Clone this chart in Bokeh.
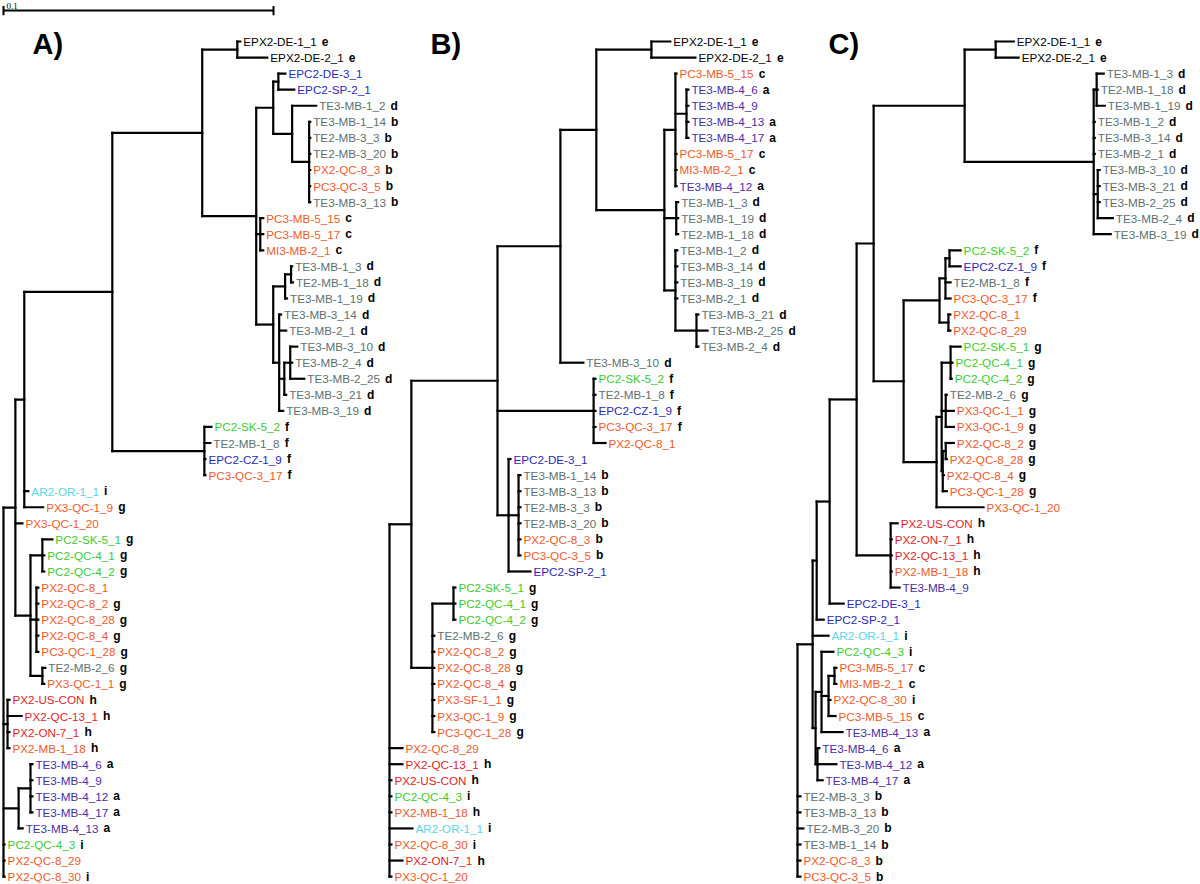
from bokeh.plotting import figure
from bokeh.models import Range1d, ColumnDataSource
from bokeh.embed import file_html
from bokeh.resources import INLINE
from bokeh.core.properties import value

# ---------------- data: three phylogenies (Newick, substitutions/site) ----------------
TREE_A = (
    "((((((EPX2-DE-1_1:0.0011,EPX2-DE-2_1:0.0111):0.0130,"
    "(((EPC2-DE-3_1:0.0026,EPC2-SP-2_1:0.0059):0.0019,"
    "(TE3-MB-1_2:0.0089,(TE3-MB-1_14:0.0004,TE2-MB-3_3:0.0004,TE2-MB-3_20:0.0004,"
    "PX2-QC-8_3:0.0004,PC3-QC-3_5:0.0004,TE3-MB-3_13:0.0004):0.0063):0.0070):0.0063,"
    "(PC3-MB-5_15:0.0011,PC3-MB-5_17:0.0011,MI3-MB-2_1:0.0011):0.0015,"
    "(((TE3-MB-1_3:0.0004,TE2-MB-1_18:0.0007):0.0022,TE3-MB-1_19:0.0007):0.0044,"
    "(TE3-MB-3_14:0.0007,TE3-MB-2_1:0.0026,((TE3-MB-3_10:0.0026,TE3-MB-2_4:0.0007,"
    "TE3-MB-2_25:0.0052):0.0022,TE3-MB-3_21:0.0007):0.0019,TE3-MB-3_19:0.0015):0.0022):0.0063"
    "):0.0200):0.0333,"
    "(PC2-SK-5_2:0.0026,TE2-MB-1_8:0.0022,EPC2-CZ-1_9:0.0004,PC3-QC-3_17:0.0004):0.0341"
    "):0.0326,AR2-OR-1_1:0.0015,PX3-QC-1_9:0.0070):0.0033,"
    "PX3-QC-1_20:0.0026,"
    "((PC2-SK-5_1:0.0037,PC2-QC-4_1:0.0007,PC2-QC-4_2:0.0007):0.0044,"
    "(PX2-QC-8_1:0.0007,PX2-QC-8_2:0.0007,PX2-QC-8_28:0.0007,PX2-QC-8_4:0.0007,PC3-QC-1_28:0.0007):0.0022,"
    "(TE2-MB-2_6:0.0011,PX3-QC-1_1:0.0007):0.0044):0.0056"
    "):0.0044,"
    "(PX2-US-CON:0.0007,PX2-QC-13_1:0.0052,PX2-ON-7_1:0.0007,PX2-MB-1_18:0.0007):0.0015,"
    "((TE3-MB-4_6:0.0007,TE3-MB-4_9:0.0007,TE3-MB-4_12:0.0007,TE3-MB-4_17:0.0007):0.0044,"
    "TE3-MB-4_13:0.0015):0.0056,"
    "PC2-QC-4_3:0.0004,PX2-QC-8_29:0.0004,PX2-QC-8_30:0.0004);"
)

TREE_B = (
    "((((((EPX2-DE-1_1:0.0070,EPX2-DE-2_1:0.0163):0.0204,"
    "((PC3-MB-5_15:0.0004,(TE3-MB-4_6:0.0007,TE3-MB-4_9:0.0007,TE3-MB-4_13:0.0007,"
    "TE3-MB-4_17:0.0007):0.0041,PC3-MB-5_17:0.0004,MI3-MB-2_1:0.0004,TE3-MB-4_12:0.0004):0.0041,"
    "(TE3-MB-1_3:0.0007,TE3-MB-1_19:0.0007,TE2-MB-1_18:0.0007):0.0044,"
    "(TE3-MB-1_2:0.0007,TE3-MB-3_14:0.0007,TE3-MB-3_19:0.0007,TE3-MB-2_1:0.0007,"
    "(TE3-MB-3_21:0.0007,TE3-MB-2_25:0.0041,TE3-MB-2_4:0.0007):0.0078):0.0041"
    "):0.0252):0.0133,"
    "TE3-MB-3_10:0.0085):0.0233,"
    "(PC2-SK-5_2:0.0007,TE2-MB-1_8:0.0007,EPC2-CZ-1_9:0.0007,PC3-QC-3_17:0.0007,PX2-QC-8_1:0.0044):0.0356,"
    "(EPC2-DE-3_1:0.0007,(TE3-MB-1_14:0.0007,TE3-MB-3_13:0.0007,TE2-MB-3_3:0.0007,TE2-MB-3_20:0.0007,"
    "PX2-QC-8_3:0.0007,PC3-QC-3_5:0.0007):0.0037,EPC2-SP-2_1:0.0081):0.0041"
    "):0.0319,"
    "((PC2-SK-5_1:0.0007,PC2-QC-4_1:0.0007,PC2-QC-4_2:0.0007):0.0078,TE2-MB-2_6:0.0007,"
    "PX2-QC-8_2:0.0007,PX2-QC-8_28:0.0007,PX2-QC-8_4:0.0007,PX3-SF-1_1:0.0007,PX3-QC-1_9:0.0007,"
    "PC3-QC-1_28:0.0007):0.0078"
    "):0.0081,"
    "PX2-QC-8_29:0.0048,PX2-QC-13_1:0.0048,PX2-US-CON:0.0007,PC2-QC-4_3:0.0007,PX2-MB-1_18:0.0007,"
    "AR2-OR-1_1:0.0085,PX2-QC-8_30:0.0007,PX2-ON-7_1:0.0048,PX3-QC-1_20:0.0007);"
)

TREE_C = (
    "((((((((EPX2-DE-1_1:0.0067,EPX2-DE-2_1:0.0085):0.0115,"
    "((TE3-MB-1_3:0.0026,TE2-MB-1_18:0.0004,TE3-MB-1_19:0.0030):0.0011,TE3-MB-1_2:0.0004,"
    "TE3-MB-3_14:0.0004,TE3-MB-2_1:0.0004,(TE3-MB-3_10:0.0007,TE3-MB-3_21:0.0007,TE3-MB-2_25:0.0007,"
    "TE3-MB-2_4:0.0056):0.0015,TE3-MB-3_19:0.0063):0.0478"
    "):0.0337,"
    "((((PC2-SK-5_2:0.0041,EPC2-CZ-1_9:0.0041):0.0015,TE2-MB-1_8:0.0019,PC3-QC-3_17:0.0019):0.0022,"
    "(PX2-QC-8_1:0.0007,PX2-QC-8_29:0.0007):0.0033):0.0133,"
    "(((PC2-SK-5_1:0.0037,PC2-QC-4_1:0.0007,PC2-QC-4_2:0.0004):0.0033,"
    "(TE2-MB-2_6:0.0004,PX3-QC-1_1:0.0030,PX3-QC-1_9:0.0030):0.0015,"
    "((PX2-QC-8_2:0.0030,PX2-QC-8_28:0.0004):0.0011,PX2-QC-8_4:0.0004,PC3-QC-1_28:0.0015):0.0004"
    "):0.0019,PX3-QC-1_20:0.0174):0.0122"
    "):0.0111"
    "):0.0063,"
    "(PX2-US-CON:0.0026,PX2-ON-7_1:0.0004,PX2-QC-13_1:0.0004,PX2-MB-1_18:0.0004,TE3-MB-4_9:0.0033):0.0126"
    "):0.0100,EPC2-DE-3_1:0.0052):0.0048,EPC2-SP-2_1:0.0026):0.0015,"
    "AR2-OR-1_1:0.0059,"
    "((PC2-QC-4_3:0.0044,((PC3-MB-5_17:0.0007,MI3-MB-2_1:0.0007):0.0022,PX2-QC-8_30:0.0007,"
    "PC3-MB-5_15:0.0026):0.0026,TE3-MB-4_13:0.0078):0.0022,"
    "(TE3-MB-4_6:0.0007,TE3-MB-4_12:0.0070,TE3-MB-4_17:0.0019):0.0007):0.0011"
    "):0.0056,"
    "TE2-MB-3_3:0.0011,TE3-MB-3_13:0.0011,TE2-MB-3_20:0.0022,TE3-MB-1_14:0.0011,"
    "PX2-QC-8_3:0.0011,PC3-QC-3_5:0.0011);"
)

TREES = [TREE_A, TREE_B, TREE_C]
PANEL_LABELS = ["A)", "B)", "C)"]
SCALE_BAR_LENGTH = 0.1
SCALE_BAR_LABEL = "0.1"

# genotype group letter of each isolate (blank = none shown)
GROUP_LETTER = {}
for letter, names in {
    "a": ["TE3-MB-4_6", "TE3-MB-4_12", "TE3-MB-4_17", "TE3-MB-4_13"],
    "b": ["TE3-MB-1_14", "TE2-MB-3_3", "TE2-MB-3_20", "PX2-QC-8_3", "PC3-QC-3_5", "TE3-MB-3_13"],
    "c": ["PC3-MB-5_15", "PC3-MB-5_17", "MI3-MB-2_1"],
    "d": ["TE3-MB-1_2", "TE3-MB-1_3", "TE2-MB-1_18", "TE3-MB-1_19", "TE3-MB-3_14", "TE3-MB-2_1",
          "TE3-MB-3_10", "TE3-MB-2_4", "TE3-MB-2_25", "TE3-MB-3_21", "TE3-MB-3_19"],
    "e": ["EPX2-DE-1_1", "EPX2-DE-2_1"],
    "f": ["PC2-SK-5_2", "TE2-MB-1_8", "EPC2-CZ-1_9", "PC3-QC-3_17"],
    "g": ["PX3-QC-1_9", "PC2-SK-5_1", "PC2-QC-4_1", "PC2-QC-4_2", "PX2-QC-8_2", "PX2-QC-8_28",
          "PX2-QC-8_4", "PC3-QC-1_28", "TE2-MB-2_6", "PX3-QC-1_1", "PX3-SF-1_1"],
    "h": ["PX2-US-CON", "PX2-QC-13_1", "PX2-ON-7_1", "PX2-MB-1_18"],
    "i": ["AR2-OR-1_1", "PC2-QC-4_3", "PX2-QC-8_30"],
}.items():
    for n in names:
        GROUP_LETTER[n] = letter

# ---------------- styles / layout ----------------
PX_PER_UNIT = 2700.0            # horizontal scale of the figure (scale bar 0.1 -> 270 px)
ROW0_PX, ROW_PX = 41.0, 16.06   # first leaf row and row pitch, in px
PANEL_ROOT_X = [3 / PX_PER_UNIT, 389 / PX_PER_UNIT, 797 / PX_PER_UNIT]
PANEL_LABEL_X = [32 / PX_PER_UNIT, 430 / PX_PER_UNIT, 828 / PX_PER_UNIT]
FONT = "Liberation Sans"
FS = 11.7
LABEL_GAP = 3
LETTER_GAP = 5
COL = {
    "black": "#000000", "blue": "#2a2ab8", "grey": "#5e7070", "purple": "#4a2ca6",
    "orange": "#ef5a2a", "red": "#e31d27", "green": "#3ccb2e", "cyan": "#5ad6e6",
}
ARIAL = {c: w for c, w in zip("ABCDEFGHIJKLMNOPQRSTUVWXYZ",
                              [667, 667, 722, 722, 667, 611, 778, 722, 278, 500, 667, 556, 833,
                               722, 778, 667, 778, 722, 667, 611, 722, 667, 944, 667, 667, 611])}
ARIAL.update({d: 556 for d in "0123456789"})
ARIAL.update({"-": 333, "_": 556})


def colour_of(name):
    if name.startswith("EPX2"):
        return COL["black"]
    if name.startswith("EPC2"):
        return COL["blue"]
    if name.startswith("TE3-MB-4"):
        return COL["purple"]
    if name.startswith("TE"):
        return COL["grey"]
    if name.startswith("PC2"):
        return COL["green"]
    if name.startswith("AR2"):
        return COL["cyan"]
    if name in ("PX2-US-CON", "PX2-QC-13_1", "PX2-ON-7_1"):
        return COL["red"]
    return COL["orange"]


def parse_newick(s):
    s = "".join(s.split())
    pos = 0

    def node():
        nonlocal pos
        nd = {"children": [], "name": "", "length": 0.0}
        if s[pos] == "(":
            pos += 1
            while True:
                nd["children"].append(node())
                ch = s[pos]
                pos += 1
                if ch == ")":
                    break
        start = pos
        while s[pos] not in ":,();":
            pos += 1
        nd["name"] = s[start:pos]
        if s[pos] == ":":
            pos += 1
            start = pos
            while s[pos] not in ",();":
                pos += 1
            nd["length"] = float(s[start:pos])
        return nd

    return node()


def layout(nd, x_parent, counter):
    nd["x"] = x_parent + nd["length"]
    if nd["children"]:
        for c in nd["children"]:
            layout(c, nd["x"], counter)
        nd["y"] = (nd["children"][0]["y"] + nd["children"][-1]["y"]) / 2.0
    else:
        nd["y"] = float(counter[0])
        counter[0] += 1


seg = {"x0": [], "y0": [], "x1": [], "y1": []}
leaf = {"x": [], "y": [], "name": [], "color": [], "letter": [], "loff": []}


def collect(nd):
    if nd["children"]:
        ys = [c["y"] for c in nd["children"]]
        seg["x0"].append(nd["x"]); seg["x1"].append(nd["x"])
        seg["y0"].append(min(ys)); seg["y1"].append(max(ys))
        for c in nd["children"]:
            seg["x0"].append(nd["x"]); seg["x1"].append(c["x"])
            seg["y0"].append(c["y"]); seg["y1"].append(c["y"])
            collect(c)
    else:
        name = nd["name"]
        leaf["x"].append(nd["x"]); leaf["y"].append(nd["y"])
        leaf["name"].append(name); leaf["color"].append(colour_of(name))
        leaf["letter"].append(GROUP_LETTER.get(name, ""))
        w = sum(ARIAL.get(ch, 556) for ch in name) * FS / 1000.0
        leaf["loff"].append(LABEL_GAP + w + LETTER_GAP)


for tree, x0 in zip(TREES, PANEL_ROOT_X):
    root = parse_newick(tree)
    layout(root, x0, [0])
    collect(root)

W, H = 1200, 884
ROW_TOP = (0 - ROW0_PX) / ROW_PX
ROW_BOTTOM = (H - ROW0_PX) / ROW_PX

p = figure(width=W, height=H, output_backend="svg", toolbar_location=None,
           x_range=Range1d(0, W / PX_PER_UNIT),
           y_range=Range1d(ROW_BOTTOM, ROW_TOP),
           x_axis_location=None, y_axis_location=None, min_border=0,
           outline_line_color=None, background_fill_color="white")
p.grid.grid_line_color = None

p.segment(x0="x0", y0="y0", x1="x1", y1="y1", source=ColumnDataSource(seg),
          line_color="black", line_width=2.2, line_cap="square")

src = ColumnDataSource(leaf)
p.text(x="x", y="y", text="name", source=src, text_color="color",
       text_font=value(FONT), text_font_size=f"{FS}px", text_baseline="middle",
       text_align="left", x_offset=LABEL_GAP)
p.text(x="x", y="y", text="letter", source=src, text_color="black",
       text_font=value(FONT), text_font_size="12px", text_font_style="bold",
       text_baseline="middle", text_align="left", x_offset="loff")

# scale bar
sb_y = (10 - ROW0_PX) / ROW_PX
sb_x0 = PANEL_ROOT_X[0]
p.segment(x0=[sb_x0, sb_x0, sb_x0 + SCALE_BAR_LENGTH], y0=[sb_y, sb_y - 0.28, sb_y - 0.28],
          x1=[sb_x0 + SCALE_BAR_LENGTH, sb_x0, sb_x0 + SCALE_BAR_LENGTH], y1=[sb_y, sb_y + 0.3, sb_y + 0.3],
          line_color="black", line_width=2)
p.text(x=[sb_x0], y=[sb_y - 0.12], text=[SCALE_BAR_LABEL], text_font=value("Liberation Serif"),
       text_font_size="9px", text_baseline="bottom", text_align="left", x_offset=3, text_color="black")

# panel labels
p.text(x=PANEL_LABEL_X, y=[(43 - ROW0_PX) / ROW_PX] * 3, text=PANEL_LABELS, text_font=value(FONT),
       text_font_size="29px", text_font_style="bold", text_baseline="alphabetic",
       text_align="left", text_color="black")

open("out.html", "w").write(file_html(p, INLINE))
